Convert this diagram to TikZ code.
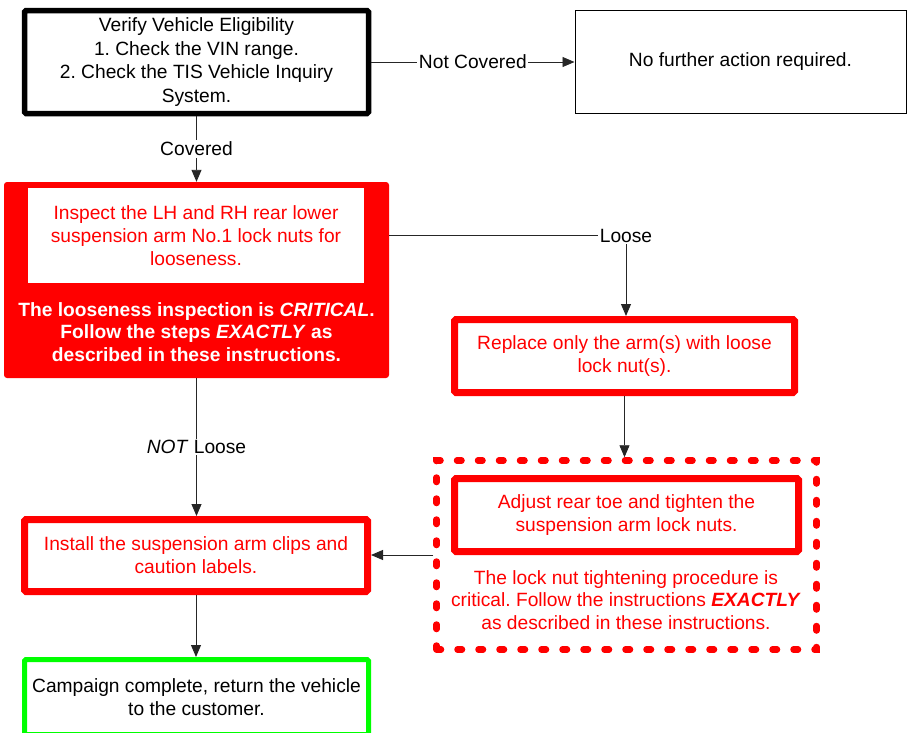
\documentclass[tikz,border=0pt]{standalone}
\usepackage{fontspec}
\setmainfont{Liberation Sans}
\usetikzlibrary{arrows.meta}
\definecolor{flowred}{RGB}{255,0,0}
\definecolor{flowgreen}{RGB}{0,255,0}
\newcommand{\flowfont}{\fontsize{19.2}{22.8}\selectfont}
\frenchspacing

\begin{document}
\begin{tikzpicture}[x=1pt, y=-1pt,
    box/.style={draw, align=center, inner sep=0pt, font=\flowfont, rounded corners=1.5pt},
    redbox/.style={box, draw=flowred, text=flowred, line width=7pt},
    link/.style={draw=black!85, line width=0.9pt, -{Triangle[length=12pt, width=10pt]}},
    tag/.style={fill=white, font=\flowfont, inner sep=1.5pt}]
    \path[use as bounding box, clip] (0,0) rectangle (908,732);

    % eligibility check
    \node[box, line width=5.5pt, minimum width=344pt, minimum height=103pt,
        font=\fontsize{19.2}{23.5}\selectfont] (verify) at (196.5,62)
        {Verify Vehicle Eligibility\\1. Check the VIN range.\\2. Check the TIS Vehicle Inquiry\\System.};
    \node[box, line width=1pt, rounded corners=0pt, minimum width=331pt, minimum height=103pt] (nofurther) at (740.5,61.5)
        {No further action required.};

    % looseness inspection
    \node[fill=flowred, rounded corners=3pt, minimum width=385pt, minimum height=196pt] (inspectbox) at (196.5,280) {};
    \node[fill=white, text=flowred, align=center, font=\flowfont, minimum width=336pt, minimum height=95pt] (inspect) at (196,235.5)
        {Inspect the LH and RH rear lower\\suspension arm No.1 lock nuts for\\looseness.};
    \node[text=white, align=center, font=\flowfont\bfseries] (critical) at (196.5,332)
        {The looseness inspection is \textit{CRITICAL}.\\Follow the steps \textit{EXACTLY} as\\described in these instructions.};

    \node[redbox, minimum width=340pt, minimum height=73pt] (replace) at (624.5,356)
        {Replace only the arm(s) with loose\\lock nut(s).};

    % toe adjustment
    \node[draw=flowred, line width=6.5pt, dash pattern=on 4.5pt off 16.5pt, line cap=round,
        minimum width=380pt, minimum height=189pt] (tighten) at (626.5,555) {};
    \node[redbox, minimum width=344pt, minimum height=73pt] (adjust) at (626.5,515)
        {Adjust rear toe and tighten the\\suspension arm lock nuts.};
    \node[text=flowred, align=center, font=\flowfont] (procedure) at (626,600)
        {The lock nut tightening procedure is\\critical. Follow the instructions \textbf{\textit{EXACTLY}}\\as described in these instructions.};

    \node[redbox, minimum width=343pt, minimum height=72pt] (install) at (196,555.5)
        {Install the suspension arm clips and\\caution labels.};
    \node[box, draw=flowgreen, line width=5pt, minimum width=344pt, minimum height=75pt] (campaign) at (196.5,697)
        {Campaign complete, return the vehicle\\to the customer.};

    % connectors
    \draw[link] (verify.east) -- node[tag] {Not Covered} (verify.east -| nofurther.west);
    \draw[link] (verify) -- node[tag] {Covered} (inspectbox);
    \draw[link] (inspect.east -| inspectbox.east) -| node[tag, pos=0.5] {Loose} ([xshift=1.5pt]replace.north);
    \draw[link] (replace.south) -- (replace.south |- tighten.north);
    \draw[link] (inspectbox.south) -- node[tag] {\textit{NOT} Loose} (inspectbox.south |- install.north);
    \draw[link] (tighten.west) -- (tighten.west -| install.east);
    \draw[link] (install.south) -- (install.south |- campaign.north);
\end{tikzpicture}
\end{document}
